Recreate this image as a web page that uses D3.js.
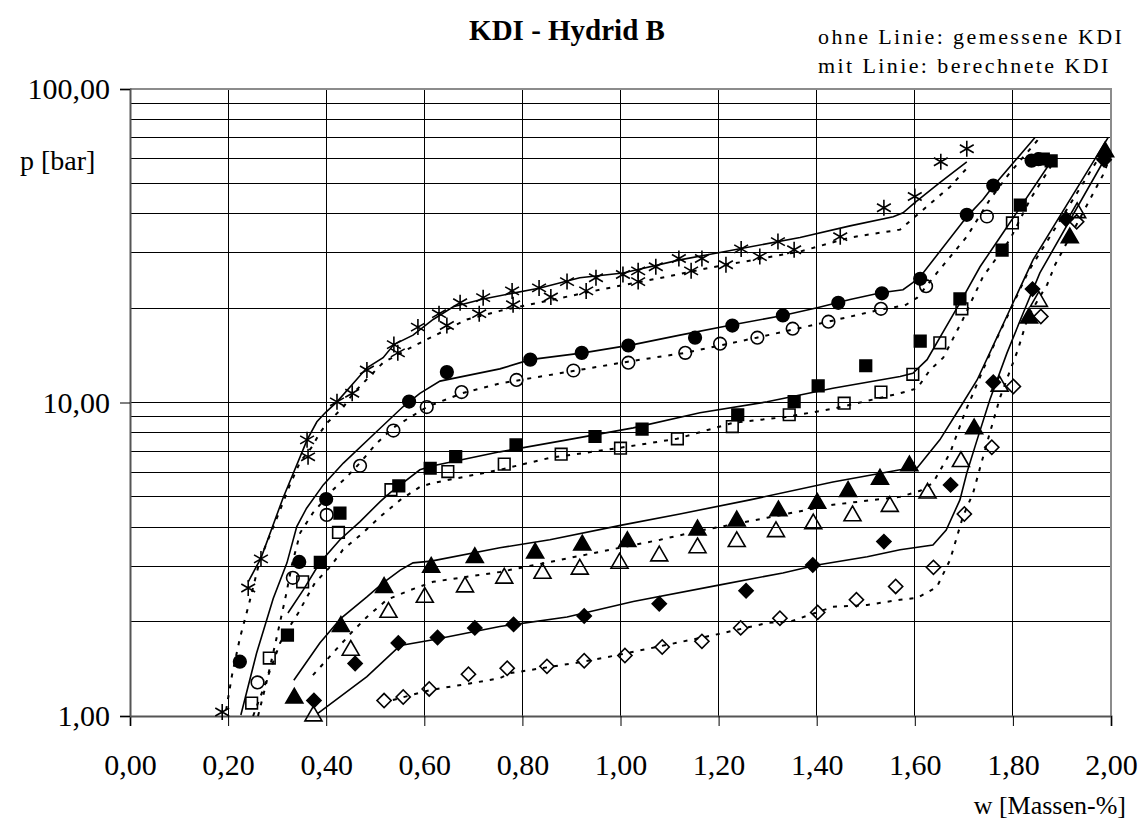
<!DOCTYPE html>
<html>
<head>
<meta charset="utf-8">
<script src="https://cdn.jsdelivr.net/npm/d3@7"></script>
<style>
  body { margin: 0; background: #fff; }
  svg { font-family: "Liberation Serif", "Times New Roman", serif; }
</style>
</head>
<body>
<svg id="chart" width="1144" height="822"></svg>
<script>
// tick labels
const xTicks = [0, 0.2, 0.4, 0.6, 0.8, 1.0, 1.2, 1.4, 1.6, 1.8, 2.0];
const yTicks = [1, 10, 100];

// gemessene KDI (ohne Linie), [w, p]
const starA = [[0.241,2.56],[0.267,3.17],[0.361,7.60],[0.422,10.05],[0.483,12.7],[0.538,15.3],[0.587,17.4],[0.630,19.2],[0.673,20.8],[0.720,21.6],[0.779,22.7],[0.834,23.2],[0.891,24.3],[0.950,25.0],[1.005,25.6],[1.036,26.3],[1.072,27.1],[1.119,28.8],[1.166,28.8],[1.246,30.9],[1.321,32.6],[1.537,41.8],[1.653,58.6],[1.706,64.5]];
const starB = [[0.188,1.03],[0.363,6.71],[0.453,10.7],[0.546,14.4],[0.646,17.6],[0.712,19.2],[0.781,20.5],[0.858,21.7],[0.930,22.7],[1.036,24.3],[1.144,26.3],[1.215,27.5],[1.284,29.2],[1.354,30.7],[1.448,33.8],[1.600,45.4]];
const circleFilled = [[0.224,1.49],[0.345,3.10],[0.400,4.92],[0.569,10.07],[0.646,12.5],[0.816,13.7],[0.921,14.4],[1.016,15.2],[1.152,16.1],[1.228,17.6],[1.331,18.95],[1.444,20.8],[1.533,22.3],[1.611,24.8],[1.706,39.7],[1.760,49.2],[1.838,59.1],[1.852,59.7]];
const circleOpen = [[0.260,1.28],[0.332,2.76],[0.401,4.38],[0.469,6.28],[0.537,8.14],[0.605,9.67],[0.676,10.8],[0.788,11.8],[0.904,12.65],[1.016,13.4],[1.132,14.4],[1.203,15.4],[1.279,16.1],[1.351,17.2],[1.424,18.1],[1.531,19.9],[1.623,23.5],[1.747,39.2]];
const squareFilled = [[0.321,1.81],[0.388,3.09],[0.428,4.44],[0.548,5.42],[0.612,6.17],[0.664,6.72],[0.787,7.33],[0.948,7.79],[1.044,8.23],[1.239,9.14],[1.354,10.07],[1.403,11.3],[1.500,13.1],[1.611,15.7],[1.692,21.4],[1.778,30.6],[1.815,42.6],[1.862,59.8],[1.878,59.0]];
const squareOpen = [[0.248,1.10],[0.284,1.53],[0.352,2.68],[0.425,3.85],[0.532,5.27],[0.648,6.02],[0.763,6.36],[0.879,6.84],[1.000,7.15],[1.116,7.66],[1.228,8.38],[1.344,9.14],[1.456,9.95],[1.531,10.8],[1.596,12.3],[1.651,15.5],[1.696,19.9],[1.799,37.4]];
const triangleFilled = [[0.335,1.14],[0.430,1.93],[0.518,2.57],[0.614,2.98],[0.703,3.20],[0.826,3.31],[0.922,3.51],[1.014,3.60],[1.157,3.92],[1.237,4.19],[1.322,4.51],[1.401,4.77],[1.464,5.20],[1.529,5.69],[1.589,6.28],[1.721,8.24],[1.833,18.6],[1.916,33.5],[1.988,63.0]];
const triangleOpen = [[0.374,1.00],[0.450,1.62],[0.527,2.14],[0.601,2.39],[0.683,2.58],[0.763,2.75],[0.841,2.85],[0.917,2.94],[0.998,3.07],[1.079,3.24],[1.157,3.44],[1.237,3.60],[1.317,3.87],[1.393,4.10],[1.473,4.35],[1.549,4.66],[1.626,5.14],[1.694,6.48],[1.773,11.27],[1.853,21.0],[1.931,40.3]];
const diamondFilled = [[0.375,1.12],[0.459,1.47],[0.547,1.71],[0.627,1.78],[0.703,1.91],[0.782,1.96],[0.926,2.085],[1.079,2.28],[1.256,2.51],[1.392,3.03],[1.537,3.60],[1.673,5.46],[1.760,11.6],[1.840,23.0],[1.908,38.5],[1.986,59.5]];
const diamondOpen = [[0.518,1.12],[0.557,1.15],[0.610,1.22],[0.690,1.36],[0.769,1.42],[0.850,1.44],[0.926,1.50],[1.009,1.56],[1.085,1.66],[1.166,1.73],[1.245,1.91],[1.325,2.05],[1.402,2.14],[1.481,2.35],[1.561,2.59],[1.638,2.98],[1.701,4.41],[1.757,7.20],[1.801,11.25],[1.857,18.8],[1.930,37.7]];

// berechnete KDI (mit Linie), [w, p]
const calcStarA = [[0.241,2.68],[0.267,3.19],[0.312,4.96],[0.351,6.96],[0.361,7.60],[0.381,8.68],[0.398,9.27],[0.422,10.05],[0.483,12.9],[0.516,13.9],[0.538,15.3],[0.577,16.4],[0.618,18.4],[0.659,20.2],[0.720,21.4],[0.836,23.2],[0.917,25.0],[1.005,25.9],[1.121,28.5],[1.197,30.0],[1.366,33.6],[1.468,36.6],[1.556,39.1],[1.576,40.3],[1.600,43.4],[1.651,50.3],[1.706,58.6]];
const calcStarB = [[0.196,1.045],[0.208,1.35],[0.224,1.77],[0.243,2.29],[0.265,3.15],[0.306,4.54],[0.326,5.46],[0.347,6.47],[0.371,7.22],[0.387,8.0],[0.404,8.68],[0.434,9.62],[0.455,10.7],[0.516,13.4],[0.577,15.1],[0.646,17.1],[0.687,18.4],[0.754,19.6],[0.958,22.9],[1.095,25.2],[1.182,26.9],[1.366,30.3],[1.468,33.6],[1.570,35.6],[1.605,39.7],[1.672,48.8],[1.713,57.4]];
const calcCircleA = [[0.226,1.007],[0.258,1.585],[0.292,2.37],[0.320,3.08],[0.340,4.02],[0.360,4.60],[0.394,5.46],[0.435,6.41],[0.503,8.08],[0.557,9.71],[0.591,10.7],[0.632,11.7],[0.754,12.8],[0.816,13.7],[0.924,14.4],[1.026,15.3],[1.121,16.4],[1.229,17.7],[1.331,18.95],[1.401,20.05],[1.468,21.3],[1.531,22.4],[1.576,22.9],[1.596,24.1],[1.611,25.2],[1.706,39.1],[1.739,44.4],[1.759,48.8],[1.845,70.0]];
const calcCircleB = [[0.261,1.00],[0.277,1.256],[0.298,1.75],[0.318,2.43],[0.330,3.03],[0.347,3.84],[0.373,4.45],[0.414,5.27],[0.442,5.79],[0.469,6.42],[0.500,7.33],[0.536,8.30],[0.606,9.69],[0.677,10.7],[0.754,11.5],[0.903,12.6],[1.015,13.5],[1.132,14.4],[1.278,16.1],[1.423,18.1],[1.531,19.8],[1.580,20.4],[1.605,21.6],[1.645,25.9],[1.706,33.8],[1.753,44.4],[1.794,54.1],[1.855,70.0]];
const calcSquareA = [[0.322,2.13],[0.353,2.52],[0.387,3.08],[0.428,3.65],[0.469,4.17],[0.510,4.83],[0.530,5.15],[0.591,6.10],[0.618,6.28],[0.754,6.96],[0.891,7.60],[1.026,8.30],[1.162,9.27],[1.299,10.05],[1.433,11.1],[1.570,12.1],[1.596,12.4],[1.625,13.7],[1.692,20.8],[1.733,27.1],[1.780,34.8],[1.882,60.0]];
const calcSquareB = [[0.251,1.00],[0.271,1.21],[0.306,1.71],[0.330,1.98],[0.343,2.13],[0.361,2.40],[0.377,2.66],[0.408,2.99],[0.434,3.39],[0.475,3.84],[0.510,4.32],[0.551,4.89],[0.591,5.38],[0.618,5.54],[0.754,6.10],[0.856,6.66],[0.999,7.17],[1.115,7.66],[1.229,8.61],[1.339,9.0],[1.433,9.55],[1.570,10.7],[1.605,11.1],[1.631,12.7],[1.658,13.9],[1.698,18.4],[1.739,25.2],[1.794,33.1],[1.835,44.4],[1.886,59.5]];
const calcTriangleA = [[0.334,1.30],[0.387,1.71],[0.430,2.05],[0.483,2.40],[0.516,2.66],[0.551,2.92],[0.577,3.08],[0.614,3.12],[0.754,3.44],[0.856,3.65],[1.005,4.07],[1.121,4.41],[1.264,4.89],[1.433,5.58],[1.570,6.10],[1.605,6.19],[1.651,7.60],[1.692,9.62],[1.727,11.8],[1.759,15.1],[1.794,19.8],[1.841,28.5],[1.994,70.0]];
const calcTriangleB = [[0.373,1.35],[0.414,1.59],[0.455,1.87],[0.483,2.07],[0.524,2.35],[0.571,2.52],[0.618,2.68],[0.687,2.78],[0.754,2.88],[0.856,3.10],[0.958,3.34],[1.081,3.65],[1.162,3.90],[1.299,4.29],[1.433,4.72],[1.570,5.00],[1.611,5.23],[1.637,5.54],[1.672,6.91],[1.702,9.27],[1.739,12.7],[1.764,15.6],[1.798,20.2],[1.831,26.1],[1.988,65.0]];
const calcDiamondA = [[0.383,1.02],[0.428,1.15],[0.483,1.335],[0.544,1.64],[0.557,1.685],[0.618,1.75],[0.754,1.93],[0.891,2.07],[1.026,2.32],[1.203,2.62],[1.331,2.86],[1.401,3.03],[1.503,3.22],[1.570,3.39],[1.637,3.51],[1.664,3.92],[1.692,4.89],[1.706,5.96],[1.727,7.60],[1.753,10.2],[1.788,14.4],[1.821,19.3],[1.855,25.9],[1.998,64.0]];
const calcDiamondB = [[0.536,1.125],[0.612,1.21],[0.693,1.27],[0.754,1.32],[0.775,1.37],[0.924,1.49],[0.999,1.57],[1.189,1.81],[1.299,1.98],[1.346,2.00],[1.433,2.23],[1.503,2.26],[1.570,2.35],[1.605,2.38],[1.645,2.58],[1.672,3.15],[1.698,4.32],[1.719,5.15],[1.733,6.19],[1.753,8.0],[1.774,10.4],[1.810,14.7],[1.831,18.8],[1.870,23.8],[1.886,27.5],[1.984,53.3],[2.000,61.7]];

const svg = d3.select('#chart');
const plotL = 130, plotR = 1111, plotT = 89, plotB = 716;

const x = d3.scaleLinear().domain([0, 2]).range([plotL, plotR]);
const y = d3.scaleLog().domain([1, 100]).range([plotB, plotT]);

const de = d3.formatLocale({decimal: ',', thousands: '.', grouping: [3], currency: ['', '']});
const fmt = de.format('.2f');

// grid
const grid = svg.append('g').attr('shape-rendering', 'crispEdges');
grid.selectAll('.hg')
    .data(y.ticks())
    .enter()
    .append('line')
    .attr('x1', plotL).attr('x2', plotR)
    .attr('y1', d => y(d)).attr('y2', d => y(d))
    .attr('stroke', '#000').attr('stroke-width', 1);
grid.selectAll('.vg')
    .data(xTicks.slice(1, -1))
    .enter()
    .append('line')
    .attr('x1', d => x(d)).attr('x2', d => x(d))
    .attr('y1', plotT).attr('y2', plotB)
    .attr('stroke', '#000').attr('stroke-width', 1);

// frame top/right
svg.append('path')
    .attr('d', `M${plotL},${plotT}H${plotR}V${plotB}`)
    .attr('fill', 'none').attr('stroke', '#8c8c8c').attr('stroke-width', 2);

// axes
const xAxis = d3.axisBottom(x).tickValues(xTicks).tickFormat(fmt).tickSize(10).tickPadding(28);
const gx = svg.append('g')
    .attr('transform', `translate(0,${plotB})`)
    .call(xAxis);
const yAxis = d3.axisLeft(y).tickValues(yTicks).tickFormat(fmt).tickSize(10).tickPadding(10);
const gy = svg.append('g')
    .attr('transform', `translate(${plotL},0)`)
    .call(yAxis);
[gx, gy].forEach(g => {
    g.select('.domain').attr('stroke', '#555').attr('stroke-width', 2);
    g.selectAll('.tick line').attr('stroke', '#000').attr('stroke-width', 1);
    g.selectAll('text')
        .attr('font-family', '"Liberation Serif", serif')
        .attr('font-size', 30)
        .attr('fill', '#000');
});

// computed curves
const line = d3.line().x(d => x(d[0])).y(d => y(d[1]));
const solids = [calcStarA, calcCircleA, calcSquareA, calcTriangleA, calcDiamondA];
const dashes = [calcStarB, calcCircleB, calcSquareB, calcTriangleB, calcDiamondB];
svg.selectAll('.solid')
    .data(solids)
    .enter()
    .append('path')
    .attr('d', line)
    .attr('fill', 'none').attr('stroke', '#000').attr('stroke-width', 1.6);
svg.selectAll('.dash')
    .data(dashes)
    .enter()
    .append('path')
    .attr('d', line)
    .attr('fill', 'none').attr('stroke', '#000').attr('stroke-width', 2)
    .attr('stroke-dasharray', '4,7');

// measured points
const sym = {
    circle: d3.symbol().type(d3.symbolCircle).size(125),
    square: d3.symbol().type(d3.symbolSquare).size(135),
    triangle: d3.symbol().type(d3.symbolTriangle).size(125),
    diamond: d3.symbol().type(d3.symbolSquare).size(100),
    star: d3.symbol().type(d3.symbolAsterisk).size(180)
};
const pointSets = [
    {data: starA, shape: 'star', filled: false},
    {data: starB, shape: 'star', filled: false},
    {data: circleFilled, shape: 'circle', filled: true},
    {data: circleOpen, shape: 'circle', filled: false},
    {data: squareFilled, shape: 'square', filled: true},
    {data: squareOpen, shape: 'square', filled: false},
    {data: triangleFilled, shape: 'triangle', filled: true},
    {data: triangleOpen, shape: 'triangle', filled: false},
    {data: diamondFilled, shape: 'diamond', filled: true},
    {data: diamondOpen, shape: 'diamond', filled: false}
];
pointSets.forEach(s => {
    svg.append('g').selectAll('path')
        .data(s.data)
        .enter()
        .append('path')
        .attr('transform', d => `translate(${x(d[0])},${y(d[1])})` + (s.shape === 'diamond' ? ' rotate(45)' : ''))
        .attr('d', sym[s.shape])
        .attr('fill', s.filled ? '#000' : 'none')
        .attr('stroke', '#000')
        .attr('stroke-width', 1.6);
});

// texts
svg.append('text')
    .attr('x', 567).attr('y', 40)
    .attr('text-anchor', 'middle')
    .attr('font-weight', 'bold').attr('font-size', 29)
    .text('KDI - Hydrid B');
svg.append('text')
    .attr('x', 818).attr('y', 44)
    .attr('font-size', 22).attr('letter-spacing', 2.4)
    .text('ohne Linie: gemessene KDI');
svg.append('text')
    .attr('x', 818).attr('y', 73)
    .attr('font-size', 22).attr('letter-spacing', 2.4)
    .text('mit Linie: berechnete KDI');
svg.append('text')
    .attr('x', 20).attr('y', 170)
    .attr('font-size', 28)
    .text('p [bar]');
svg.append('text')
    .attr('x', 1126).attr('y', 814)
    .attr('text-anchor', 'end')
    .attr('font-size', 26)
    .text('w [Massen-%]');
</script>
</body>
</html>
